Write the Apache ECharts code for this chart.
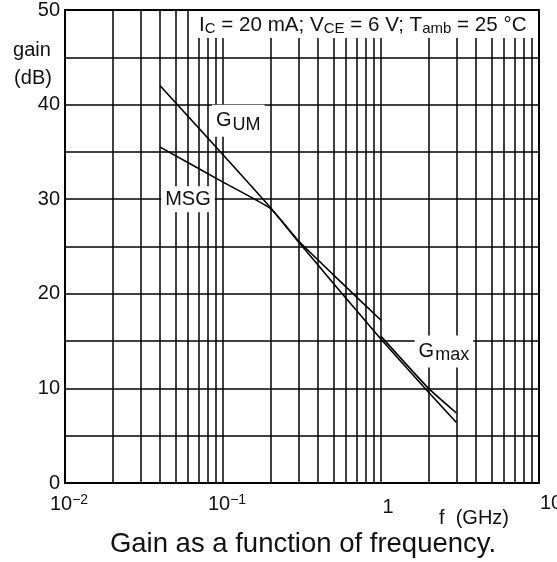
<!DOCTYPE html>
<html><head><meta charset="utf-8">
<script src="https://cdn.jsdelivr.net/npm/echarts@6/dist/echarts.min.js"></script>
<style>html,body{margin:0;padding:0;background:#fff}#c{width:557px;height:562px}</style>
</head><body><div id="c"></div>
<script>
// ---- data ----
const gumFreq  = [0.04, 0.1, 0.2, 0.3, 0.5, 1, 2, 3];
const gumGain  = [42.0, 34.7, 29.1, 25.5, 21.1, 15.2, 9.6, 6.4];
const msgFreq  = [0.04, 0.1, 0.2, 0.3, 0.5, 1];
const msgGain  = [35.5, 31.8, 29.0, 25.6, 22.0, 17.2];
const gmaxFreq = [1, 2, 3];
const gmaxGain = [15.5, 10.0, 7.4];
const minorFreqs = [0.02,0.03,0.04,0.05,0.06,0.07,0.08,0.09,
                    0.2,0.3,0.4,0.5,0.6,0.7,0.8,0.9,
                    2,3,4,5,6,7,8,9];
const yTickLabels = [0, 10, 20, 30, 40, 50];
const xTickLabels = {0.01:'{b|10}{e|−2}', 0.1:'{b|10}{e|−1}', 1:'{one|1}', 10:'{ten|10}'};

const FONT = '"Liberation Sans", Arial, Helvetica, sans-serif';
const K = '#111';
const pairs = (xs, ys) => xs.map((x, i) => [x, ys[i]]);

const chart = echarts.init(document.getElementById('c'), null, {renderer: 'canvas'});
const lineCurve = {type: 'line', showSymbol: false, symbol: 'none', smooth: 0.15,
  lineStyle: {color: '#000', width: 1.6}, z: 5, silent: true};

const option = {
  animation: false,
  backgroundColor: '#fff',
  grid: {left: 65, right: 18, top: 10, bottom: 79, show: true, borderColor: '#000',
         borderWidth: 1.8, outerBoundsMode: 'none', containLabel: false},
  xAxis: {
    type: 'log', logBase: 10, min: 0.01, max: 10,
    axisLine: {show: true, lineStyle: {color: '#000', width: 1.6}},
    axisTick: {show: false},
    splitLine: {show: true, lineStyle: {color: '#000', width: 1.5}},
    axisLabel: {
      margin: 10, color: K, fontFamily: FONT, fontSize: 20,
      formatter: v => { const k = Object.keys(xTickLabels).find(t => Math.abs(+t - v) < v * 1e-6); return k ? xTickLabels[k] : ''; },
      rich: {
        b: {fontSize: 20, fontFamily: FONT, color: K, padding: [0, 0, 0, 8]},
        e: {fontSize: 14, fontFamily: FONT, color: K, padding: [0, 0, 9, 0]},
        one: {fontSize: 20, fontFamily: FONT, color: K, padding: [4, 0, 0, 14]},
        ten: {fontSize: 20, fontFamily: FONT, color: K, padding: [0, 0, 0, 24]}
      }
    }
  },
  yAxis: {
    type: 'value', min: 0, max: 50, interval: 5,
    axisLine: {show: true, lineStyle: {color: '#000', width: 1.6}},
    axisTick: {show: false},
    splitLine: {show: true, lineStyle: {color: '#000', width: 1.5}},
    axisLabel: {margin: 5, color: K, fontFamily: FONT, fontSize: 20, padding: [4, 0, 0, 0],
      formatter: v => yTickLabels.indexOf(v) >= 0 ? String(v) : ''}
  },
  series: [
    Object.assign({}, lineCurve, {name: 'GUM', data: pairs(gumFreq, gumGain),
      markLine: {silent: true, symbol: ['none', 'none'], label: {show: false},
        lineStyle: {color: '#000', width: 1.5, type: 'solid'},
        data: minorFreqs.map(v => ({xAxis: v}))},
      markPoint: {silent: true, symbol: 'rect', symbolSize: 1, itemStyle: {color: '#fff'},
        data: [
          {coord: [0.125, 38.3], label: {formatter: '{g|G}{s|UM}'}},
          {coord: [0.06, 30.0], label: {formatter: '{g|MSG}'}},
          {coord: [2.5, 13.9], label: {formatter: '{g|G}{s|max}'}}
        ],
        label: {show: true, position: 'inside', backgroundColor: '#fff', padding: [3, 4, 3, 4],
          rich: {
            g: {fontSize: 20, fontFamily: FONT, color: K},
            s: {fontSize: 18, fontFamily: FONT, color: K, padding: [8, 0, 0, 1]}
          }}
      }}),
    Object.assign({}, lineCurve, {name: 'MSG', data: pairs(msgFreq, msgGain)}),
    Object.assign({}, lineCurve, {name: 'Gmax', data: pairs(gmaxFreq, gmaxGain)})
  ],
  graphic: [
    {type: 'rect', z: 100, shape: {x: 191, y: 11, width: 347, height: 27}, style: {fill: '#fff'}},
    {type: 'text', z: 101, x: 199, y: 25, style: {
      text: 'I{s|C} = 20 mA; V{s|CE} = 6 V; T{s|amb} = 25 °C',
      font: '20.6px ' + FONT, fill: K, verticalAlign: 'middle',
      rich: {s: {fontSize: 15, fontFamily: FONT, fill: K, padding: [7, 0, 0, 0]}}
    }},
    {type: 'text', z: 101, x: 32, y: 50, style: {text: 'gain', font: '20px ' + FONT, fill: K, align: 'center', verticalAlign: 'middle'}},
    {type: 'text', z: 101, x: 33, y: 78, style: {text: '(dB)', font: '20px ' + FONT, fill: K, align: 'center', verticalAlign: 'middle'}},
    {type: 'text', z: 101, x: 474, y: 518, style: {text: 'f  (GHz)', font: '20px ' + FONT, fill: K, align: 'center', verticalAlign: 'middle'}},
    {type: 'text', z: 101, x: 303, y: 544, style: {text: 'Gain as a function of frequency.', font: '27.5px ' + FONT, fill: K, align: 'center', verticalAlign: 'middle'}}
  ]
};
chart.setOption(option);
</script></body></html>
